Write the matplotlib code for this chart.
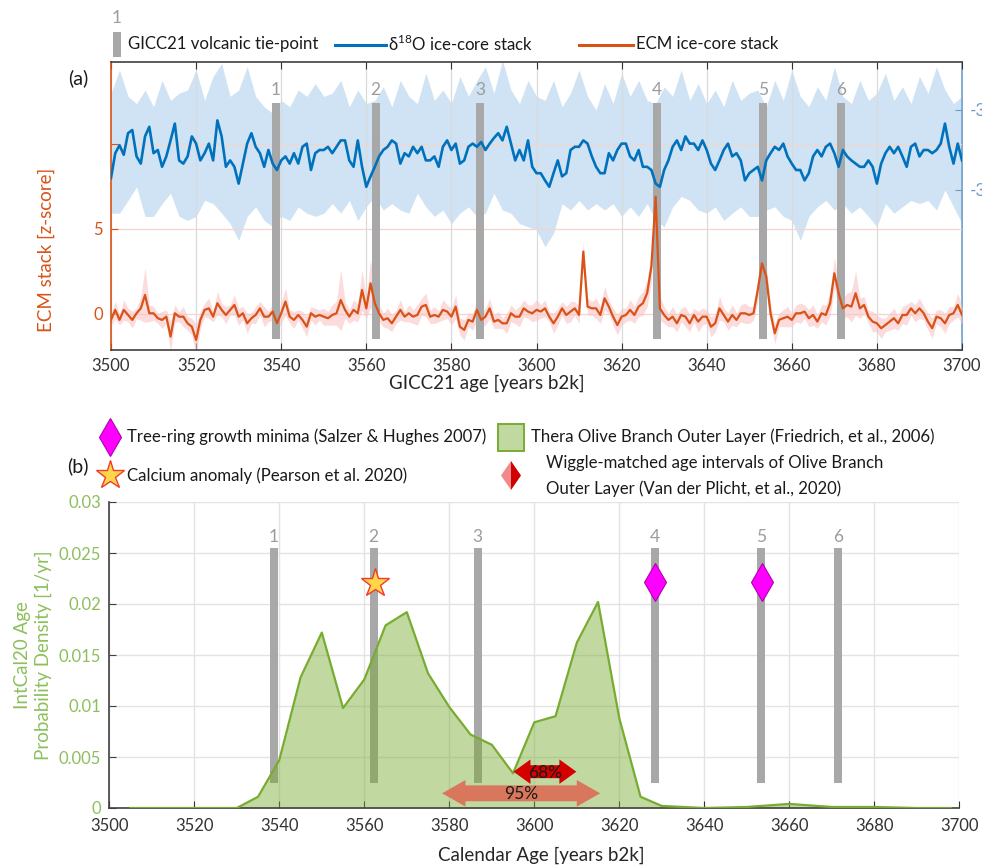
import numpy as np
import matplotlib
matplotlib.use("Agg")
import matplotlib.pyplot as plt
from matplotlib.patches import Rectangle, Polygon, FancyArrow
from matplotlib.lines import Line2D

plt.rcParams['font.family'] = ['Lato', 'DejaVu Sans']
plt.rcParams['mathtext.fontset'] = 'custom'
plt.rcParams['mathtext.rm'] = 'Lato'

# ---------------- data: panel (a) ----------------
years = np.arange(3500, 3701)

d18o = [
    -34.85, -34.54, -34.44, -34.56, -34.29, -34.25, -34.58, -34.67, -34.33, -34.21,
    -34.54, -34.50, -34.71, -34.58, -34.38, -34.17, -34.63, -34.67, -34.58, -34.33,
    -34.42, -34.63, -34.54, -34.42, -34.63, -34.13, -34.33, -34.71, -34.63, -34.71,
    -34.92, -34.67, -34.42, -34.29, -34.46, -34.54, -34.71, -34.50, -34.67, -34.75,
    -34.63, -34.58, -34.67, -34.54, -34.67, -34.46, -34.42, -34.75, -34.54, -34.50,
    -34.50, -34.46, -34.54, -34.46, -34.38, -34.38, -34.63, -34.71, -34.38, -34.71,
    -34.96, -34.83, -34.71, -34.58, -34.50, -34.46, -34.38, -34.42, -34.67, -34.54,
    -34.58, -34.46, -34.54, -34.46, -34.63, -34.63, -34.58, -34.71, -34.46, -34.38,
    -34.50, -34.42, -34.67, -34.63, -34.46, -34.42, -34.46, -34.40, -34.50, -34.42,
    -34.35, -34.29, -34.38, -34.21, -34.42, -34.63, -34.50, -34.63, -34.38, -34.71,
    -34.79, -34.79, -34.88, -34.96, -34.79, -34.63, -34.83, -34.79, -34.50, -34.46,
    -34.46, -34.38, -34.42, -34.58, -34.71, -34.79, -34.79, -34.54, -34.63, -34.50,
    -34.42, -34.42, -34.58, -34.63, -34.50, -34.71, -34.71, -34.75, -34.92, -34.96,
    -34.75, -34.63, -34.46, -34.38, -34.50, -34.33, -34.42, -34.42, -34.50, -34.38,
    -34.50, -34.67, -34.75, -34.63, -34.50, -34.42, -34.58, -34.54, -34.63, -34.88,
    -34.79, -34.75, -34.71, -34.88, -34.63, -34.54, -34.46, -34.50, -34.42, -34.58,
    -34.67, -34.75, -34.75, -34.88, -34.79, -34.58, -34.50, -34.58, -34.46, -34.42,
    -34.54, -34.71, -34.50, -34.58, -34.63, -34.67, -34.71, -34.71, -34.63, -34.71,
    -34.92, -34.67, -34.54, -34.46, -34.54, -34.46, -34.58, -34.71, -34.46, -34.42,
    -34.58, -34.50, -34.50, -34.54, -34.50, -34.42, -34.17, -34.46, -34.67, -34.42,
    -34.63]

band_years = np.arange(3500, 3701, 2)
d18o_upper = [
    -33.79, -33.50, -33.83, -33.92, -33.75, -33.96, -33.63, -33.88, -33.79, -33.75,
    -33.50, -33.88, -33.58, -33.42, -33.83, -33.75, -33.46, -33.83, -33.96, -34.04,
    -33.88, -33.96, -33.75, -33.83, -33.67, -33.83,
    -33.79, -33.63, -33.96, -33.75, -33.92, -33.88, -33.71, -33.96, -33.63, -33.83,
    -33.92, -33.54, -33.88, -33.75, -33.92, -33.58, -33.83, -33.63, -33.46, -33.79,
    -33.38, -33.75, -33.92, -33.63, -33.83,
    -33.88, -33.63, -33.96, -33.79, -33.50, -33.83, -34.00, -33.67, -33.92, -33.54,
    -33.83, -33.63, -33.88, -33.92, -33.71, -33.83, -33.50, -33.88, -33.67, -33.92,
    -33.75, -33.96, -33.63, -33.88, -33.79,
    -33.75, -33.96, -33.63, -33.88, -33.50, -33.83, -33.96, -33.71, -33.88, -33.46,
    -33.83, -33.92, -33.63, -33.88, -33.79, -33.54, -33.88, -33.71, -33.92, -33.58,
    -33.79, -33.46, -33.75, -33.92, -33.83]
d18o_lower = [
    -35.29, -35.29, -35.13, -34.96, -35.33, -35.33, -35.17, -35.04, -35.33, -35.38,
    -35.33, -35.13, -35.17, -35.29, -35.42, -35.63, -35.33, -35.21, -35.38, -35.46,
    -35.33, -35.38, -35.21, -35.29, -35.33, -35.29,
    -35.17, -35.29, -35.13, -35.38, -35.21, -35.08, -35.25, -35.17, -35.25, -35.29,
    -35.04, -35.21, -35.33, -35.25, -35.42, -35.29, -35.21, -35.33, -35.29, -35.04,
    -35.25, -35.29, -35.42, -35.46, -35.50,
    -35.71, -35.54, -35.17, -35.25, -35.13, -35.25, -35.17, -35.25, -35.17, -35.33,
    -35.21, -35.33, -35.17, -35.38, -35.46, -35.21, -35.08, -35.13, -35.25, -35.29,
    -35.21, -35.38, -35.29, -35.21, -35.33,
    -35.33, -35.25, -35.21, -35.33, -35.38, -35.63, -35.33, -35.21, -35.13, -35.25,
    -35.17, -35.29, -35.21, -35.33, -35.46, -35.17, -35.29, -35.21, -35.13, -35.17,
    -35.13, -35.25, -35.00, -35.21, -35.42]

ecm = [
    -0.35, 0.24, -0.35, 0.24, -0.06, -0.35, 0.04, 0.33, 1.12, 0.04,
    0.04, -0.25, -0.35, -0.16, -1.33, 0.04, -0.16, -0.16, -0.55, -0.75,
    -1.53, -0.35, 0.24, 0.33, -0.16, 0.63, 0.24, -0.06, 0.24, 0.53,
    -0.16, 0.04, -0.55, -0.25, -0.06, 0.33, -0.16, -0.16, 0.14, -0.55,
    0.04, 0.73, -0.16, -0.35, -0.06, -0.35, -0.75, 0.04, -0.16, -0.06,
    -0.16, -0.25, -0.06, 0.04, 0.82, 0.24, -0.16, 0.24, 0.04, 1.41,
    0.33, 1.80, 0.63, 0.04, -0.35, -0.25, -0.55, -0.16, 0.24, -0.16,
    0.04, -0.16, -0.06, 0.43, 0.53, -0.16, -0.06, -0.16, 0.24, 0.14,
    -0.16, 0.43, -0.75, -0.94, -0.35, -0.45, 0.24, -0.35, -0.16, 0.33,
    -0.45, -0.35, -0.55, -0.55, 0.04, -0.16, -0.16, 0.33, 0.14, 0.04,
    0.24, 0.14, 0.33, -0.16, -0.55, -0.16, 0.33, -0.06, 0.14, 0.33,
    -0.06, 3.67, 0.43, 0.33, 0.33, -0.06, 0.92, 0.43, -0.16, -0.65,
    -0.16, -0.06, 0.24, -0.06, 0.43, 0.63, 1.22, 2.78, 6.90, 0.33,
    -0.06, -0.35, -0.16, -0.55, -0.06, -0.16, -0.55, -0.06, -0.45, -0.16,
    -0.16, -0.75, -0.55, 0.33, -0.06, -0.45, -0.06, -0.35, 0.04, 0.04,
    -0.06, 0.04, 1.41, 2.98, 2.20, 0.04, -1.14, -0.35, -0.25, -0.16,
    -0.35, 0.04, 0.04, 0.14, -0.25, -0.06, -0.45, 0.04, -0.06, 0.63,
    2.39, 1.22, 0.33, 0.53, 0.43, 1.22, 0.33, 0.53, -0.16, -0.45,
    -0.55, -0.84, -0.65, -0.45, -0.25, -0.55, -0.06, -0.06, 0.33, 0.04,
    0.33, 0.04, -0.45, -0.84, -0.16, -0.25, -0.55, -0.06, 0.04, 0.53,
    -0.06]

ecm_spread = [
    0.4, 0.5, 0.3, 0.6, 0.4, 0.5, 0.3, 0.7, 1.6, 0.5,
    0.4, 0.3, 0.5, 0.4, 0.9, 0.5, 0.3, 0.6, 0.4, 0.5,
    0.9, 0.5, 0.4, 0.6, 0.3, 0.7, 0.4, 0.5, 0.3, 0.6,
    0.5, 0.4, 0.6, 0.3, 0.5, 0.4, 0.6, 0.3, 0.5, 0.4,
    0.6, 0.8, 0.4, 0.5, 0.3, 0.5, 0.6, 0.4, 0.5, 0.3,
    0.5, 0.4, 0.6, 0.7, 1.8, 0.5, 0.4, 0.6, 0.5, 1.2,
    0.6, 1.4, 0.8, 0.5, 0.4, 0.6, 0.5, 0.4, 0.6, 0.3,
    0.5, 0.4, 0.6, 0.5, 0.7, 0.4, 0.5, 0.3, 0.6, 0.4,
    0.5, 0.7, 0.5, 0.6, 0.4, 0.5, 0.6, 0.4, 0.5, 0.6,
    0.4, 0.5, 0.3, 0.6, 0.5, 0.4, 0.6, 0.5, 0.4, 0.5,
    0.6, 0.4, 0.5, 0.3, 0.6, 0.5, 0.4, 0.5, 0.6, 0.4,
    0.5, 0.6, 0.5, 0.4, 0.6, 0.5, 0.7, 0.4, 0.5, 0.6,
    0.5, 0.4, 0.6, 0.5, 0.6, 0.7, 0.8, 0.9, 0.6, 0.7,
    0.5, 0.4, 0.6, 0.5, 0.4, 0.6, 0.5, 0.4, 0.6, 0.5,
    0.4, 0.6, 0.5, 0.7, 0.4, 0.5, 0.6, 0.4, 0.5, 0.6,
    0.5, 0.4, 0.7, 0.8, 0.7, 0.5, 0.6, 0.4, 0.5, 0.6,
    0.4, 0.5, 0.6, 0.4, 0.5, 0.6, 0.4, 0.5, 0.6, 0.7,
    0.9, 0.8, 0.6, 0.7, 0.9, 1.3, 0.6, 0.5, 0.4, 0.6,
    0.5, 0.6, 0.4, 0.5, 0.6, 0.4, 0.5, 0.6, 0.4, 0.5,
    0.6, 0.4, 0.5, 0.6, 0.4, 0.5, 0.6, 0.5, 0.4, 0.7,
    0.5]

tie_years = [3538.7, 3562.2, 3586.7, 3628.4, 3653.3, 3671.5]
tie_labels = ['1', '2', '3', '4', '5', '6']

# ---------------- data: panel (b) ----------------
dens_years = [3505, 3530, 3535, 3540, 3545, 3550, 3555, 3560, 3565, 3570,
              3575, 3580, 3585, 3590, 3595, 3600, 3605, 3610, 3615, 3620,
              3625, 3630, 3635, 3640, 3650, 3660, 3670, 3680, 3690, 3698]
dens_vals = [0.0, 0.0, 0.0011, 0.0047, 0.0128, 0.0172, 0.0098, 0.0126, 0.0179, 0.0192,
             0.0132, 0.0099, 0.0072, 0.0062, 0.0034, 0.0084, 0.0090, 0.0162, 0.0202, 0.0088,
             0.0011, 0.0002, 0.0001, 0.0, 0.0001, 0.0004, 0.0001, 0.0001, 0.0, 0.0]

treering_years = [3628.5, 3653.5]
treering_vals = [0.0222, 0.0222]
calcium_year = [3562.5]
calcium_val = [0.0221]
wiggle95 = (3578.3, 3615.5, 0.00144)
wiggle68 = (3595.1, 3609.9, 0.00356)

# ---------------- styling ----------------
W, H = 982, 866
BLUE = '#0072BD'
ORANGE = '#D95319'
GREEN = '#77AC30'
GREENTXT = '#8CBF5C'
GRAYBAR = '#A8A8A8'
AXBLUE = '#6A9BC8'
LEG = 12.1

def fx(px):
    return px / W

def fy(py):
    return 1 - py / H

fig = plt.figure(figsize=(W / 100, H / 100), dpi=100)
fig.patch.set_facecolor('white')

# ---------------- panel (a) ----------------
ax1 = fig.add_axes([fx(111), fy(350), (962 - 111) / W, (350 - 62) / H])
ax2 = ax1.twinx()
ax3 = ax1.twinx()
ax2.set_zorder(0)
ax1.set_zorder(1)
ax3.set_zorder(2)
ax1.patch.set_visible(False)
ax2.patch.set_visible(False)
ax3.patch.set_visible(False)

ax2.fill_between(band_years, d18o_lower, d18o_upper, color='#CFE3F4', lw=0)
ax3.plot(years, d18o, color=BLUE, lw=1.9, zorder=3)
for a in (ax2, ax3):
    a.set_ylim(-37.0, -33.4)
ax3.axis('off')
for s in ('left', 'top', 'bottom'):
    ax2.spines[s].set_visible(False)
ax2.spines['right'].set_color(AXBLUE)
ax2.spines['right'].set_linewidth(1.2)
ax2.set_yticks([-37, -35, -34])
ax2.set_yticklabels(['', '-35', '-34'])
ax2.tick_params(axis='y', direction='in', colors=AXBLUE, labelsize=12.5, length=5, pad=6)

ecm_arr = np.array(ecm)
spr = np.array(ecm_spread)
ax1.fill_between(years, ecm_arr - spr, ecm_arr + spr, color='#F9C4C4', lw=0, alpha=0.6, zorder=1.5)
ax1.bar(tie_years, [12.4 + 1.5] * len(tie_years), bottom=-1.5, width=1.9,
        color=GRAYBAR, zorder=2)
for xv, lab in zip(tie_years, tie_labels):
    ax1.text(xv, 13.15, lab, ha='center', va='center', color='#9C9C9C', fontsize=12.5)
ax1.plot(years, ecm, color=ORANGE, lw=1.6, zorder=3)
ax1.set_xlim(3500, 3700)
ax1.set_ylim(-2.12, 14.82)
ax1.set_xticks(np.arange(3500, 3701, 20))
ax1.set_yticks([0, 5, 10])
ax1.set_yticklabels(['0', '5', ''])
ax1.set_axisbelow(True)
ax1.grid(axis='x', color='#DADADA', lw=0.9)
ax1.grid(axis='y', color='#F2D5CC', lw=0.9)
ax1.tick_params(axis='x', direction='in', top=True, length=5, labelsize=12,
                colors='#333333', pad=6)
ax1.tick_params(axis='y', direction='in', length=5, labelsize=12, colors=ORANGE, pad=6)
ax1.spines['left'].set_color(ORANGE)
ax1.spines['right'].set_visible(False)
ax1.spines['top'].set_color('#404040')
ax1.spines['bottom'].set_color('#404040')
for s in ('left', 'top', 'bottom'):
    ax1.spines[s].set_linewidth(1.2)
ax1.set_xlabel('GICC21 age [years b2k]', fontsize=13.5, color='#262626')
ax1.xaxis.set_label_coords((487 - 111) / 851, -0.085)
ax1.set_ylabel('ECM stack [z-score]', fontsize=13.5, color=ORANGE)
ax1.yaxis.set_label_coords(-0.066, 0.347)

# legend (a)
fig.add_artist(Rectangle((fx(113), fy(57)), 8 / W, 25 / H, transform=fig.transFigure,
                         color=GRAYBAR, lw=0))
fig.text(fx(117), fy(18), '1', color='#9C9C9C', fontsize=12.5, ha='center', va='center')
fig.text(fx(128), fy(44), 'GICC21 volcanic tie-point', fontsize=LEG, va='center', color='#1a1a1a')
fig.add_artist(Line2D([fx(335), fx(386)], [fy(45), fy(45)], transform=fig.transFigure,
                      color=BLUE, lw=2.2))
fig.text(fx(388), fy(44), r'δ$^{\mathregular{18}}$O ice-core stack', fontsize=LEG,
         va='center', color='#1a1a1a')
fig.add_artist(Line2D([fx(579), fx(633)], [fy(45), fy(45)], transform=fig.transFigure,
                      color=ORANGE, lw=2.2))
fig.text(fx(636), fy(44), 'ECM ice-core stack', fontsize=LEG, va='center', color='#1a1a1a')
fig.text(fx(78), fy(78), '(a)', fontsize=14, ha='center', va='center', color='#1a1a1a')

# ---------------- panel (b) ----------------
axb = fig.add_axes([fx(109.3), fy(808), 850 / W, 306 / H])
axb.set_axisbelow(True)
axb.grid(True, color='#E3E3E3', lw=1.0)
axb.bar(tie_years, [0.0255 - 0.00245] * len(tie_years), bottom=0.00245, width=1.9,
        color=GRAYBAR, zorder=1)
for xv, lab in zip(tie_years, tie_labels):
    axb.text(xv, 0.02655, lab, ha='center', va='center', color='#9C9C9C', fontsize=12.5)
axb.fill_between(dens_years, 0, dens_vals, color=GREEN, alpha=0.45, lw=0, zorder=2)
axb.plot(dens_years, dens_vals, color=GREEN, lw=1.6, zorder=3)

# wiggle-match arrows (double headed)
def double_arrow(x0, x1, y, w, hw, hl, color):
    xm = 0.5 * (x0 + x1)
    for xe in (x0, x1):
        axb.add_patch(FancyArrow(xm, y, xe - xm, 0, width=w, head_width=hw,
                                 head_length=hl, length_includes_head=True,
                                 color=color, lw=0, zorder=4))
    return xm

xm95 = double_arrow(wiggle95[0], wiggle95[1], wiggle95[2], 0.00156, 0.0026, 5.5, '#D9775D')
axb.text(xm95, wiggle95[2] - 0.0001, '95%', ha='center', va='center', fontsize=12.5,
         color='#1a1a1a', zorder=5)
xm68 = double_arrow(wiggle68[0], wiggle68[1], wiggle68[2], 0.00127, 0.0024, 4.0, '#D40000')
axb.text(xm68, wiggle68[2] - 0.0001, '68%', ha='center', va='center', fontsize=12.5,
         color='#1a1a1a', zorder=5)

axb.plot(calcium_year, calcium_val, marker='*', ms=21, mfc='#FFD54A', mec='#F03C2E',
         mew=1.0, ls='none', zorder=6)
axb.plot(treering_years, treering_vals, marker='d', ms=19, mfc='#FF00FF', mec='#B000B0',
         mew=0.8, ls='none', zorder=6)

axb.set_xlim(3500, 3700)
axb.set_ylim(0, 0.03)
axb.set_xticks(np.arange(3500, 3701, 20))
axb.set_yticks(np.arange(0, 0.0301, 0.005))
axb.set_yticklabels(['0', '0.005', '0.01', '0.015', '0.02', '0.025', '0.03'])
axb.tick_params(axis='x', direction='in', length=5, labelsize=12, colors='#333333', pad=7)
axb.tick_params(axis='y', direction='in', length=5, labelsize=12, colors=GREENTXT, pad=6)
axb.tick_params(axis='y', color='#404040')
for s in ('top', 'right'):
    axb.spines[s].set_visible(False)
for s in ('left', 'bottom'):
    axb.spines[s].set_color('#404040')
    axb.spines[s].set_linewidth(1.2)
axb.set_xlabel('Calendar Age [years b2k]', fontsize=13.5, color='#262626')
axb.xaxis.set_label_coords((541 - 109.3) / 850, -0.125)
axb.set_ylabel('IntCal20 Age\nProbability Density [1/yr]', fontsize=13.5, color=GREENTXT,
               linespacing=1.25)
axb.yaxis.set_label_coords(-0.067, 0.5)

# legend (b)
fig.add_artist(Line2D([fx(110)], [fy(437)], transform=fig.transFigure, marker='d', ms=19,
                      mfc='#FF00FF', mec='#B000B0', mew=0.8, ls='none'))
fig.text(fx(127), fy(437), 'Tree-ring growth minima (Salzer & Hughes 2007)', fontsize=LEG,
         va='center', color='#1a1a1a')
fig.add_artist(Rectangle((fx(498), fy(451)), 26 / W, 27 / H, transform=fig.transFigure,
                         facecolor=(0.466, 0.674, 0.188, 0.45), edgecolor=GREEN, lw=1.4))
fig.text(fx(531), fy(437), 'Thera Olive Branch Outer Layer (Friedrich, et al., 2006)',
         fontsize=LEG, va='center', color='#1a1a1a')
fig.add_artist(Line2D([fx(110)], [fy(475)], transform=fig.transFigure, marker='*', ms=21,
                      mfc='#FFD54A', mec='#F03C2E', mew=1.0, ls='none'))
fig.text(fx(127), fy(476), 'Calcium anomaly (Pearson et al. 2020)', fontsize=LEG,
         va='center', color='#1a1a1a')
fig.add_artist(Polygon([(fx(511), fy(461)), (fx(501), fy(475.5)), (fx(511), fy(490))],
                       closed=True, transform=fig.transFigure, color='#F08A8A', lw=0))
fig.add_artist(Polygon([(fx(511), fy(461)), (fx(521), fy(475.5)), (fx(511), fy(490))],
                       closed=True, transform=fig.transFigure, color='#D00000', lw=0))
fig.text(fx(546), fy(463), 'Wiggle-matched age intervals of Olive Branch', fontsize=LEG,
         va='center', color='#1a1a1a')
fig.text(fx(546), fy(489), 'Outer Layer (Van der Plicht, et al., 2020)', fontsize=LEG,
         va='center', color='#1a1a1a')
fig.text(fx(78), fy(466), '(b)', fontsize=14, ha='center', va='center', color='#1a1a1a')

fig.savefig('out.png', dpi=100)
